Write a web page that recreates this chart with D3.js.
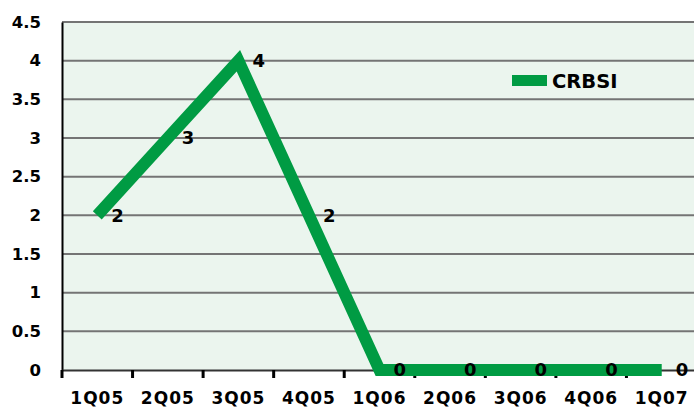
<!DOCTYPE html>
<html>
<head>
<meta charset="utf-8">
<script src="https://cdn.jsdelivr.net/npm/d3@7"></script>
<style>
  body { margin: 0; background: #fff; }
  text { font-family: "DejaVu Sans", sans-serif; font-weight: bold; fill: #000; }
</style>
</head>
<body>
<svg id="chart" width="694" height="413"></svg>
<script>
var quarters = ["1Q05", "2Q05", "3Q05", "4Q05", "1Q06", "2Q06", "3Q06", "4Q06", "1Q07"];
var crbsi = [2, 3, 4, 2, 0, 0, 0, 0, 0];
var yTicks = [0, 0.5, 1, 1.5, 2, 2.5, 3, 3.5, 4, 4.5];
var seriesName = "CRBSI";

var plotLeft = 62, plotTop = 22, plotRight = 697, plotBottom = 370;
var green = "#009b43";

var svg = d3.select("#chart");

var x = d3.scaleBand().domain(quarters).range([plotLeft, plotRight]);
var y = d3.scaleLinear().domain([0, 4.5]).range([plotBottom, plotTop]);

// plot background
svg.append("rect").attr("x", plotLeft).attr("y", plotTop)
	.attr("width", plotRight - plotLeft).attr("height", plotBottom - plotTop)
	.attr("fill", "#ebf5ee");

// grid lines
svg.append("g").selectAll("line").data(yTicks.filter(function(d){ return d > 0; }))
	.enter().append("line")
	.attr("x1", plotLeft).attr("x2", plotRight)
	.attr("y1", function(d){ return y(d); }).attr("y2", function(d){ return y(d); })
	.attr("stroke", "#747474").attr("stroke-width", 2);

// y axis
var yAxis = svg.append("g").attr("transform", "translate(" + plotLeft + ",0)")
	.call(d3.axisLeft(y).tickValues(yTicks).tickSize(0).tickPadding(21)
		.tickFormat(function(d){ return String(d); }));
yAxis.select(".domain").attr("stroke", "#000").attr("stroke-width", 2);
yAxis.selectAll("text").attr("font-size", 16.5);

// x axis
var xAxis = svg.append("g").attr("transform", "translate(0," + plotBottom + ")")
	.call(d3.axisBottom(x).tickSize(0).tickPadding(22));
xAxis.select(".domain").attr("stroke", "#333").attr("stroke-width", 2);
xAxis.selectAll("text").attr("font-size", 17).attr("letter-spacing", 1);

// tick marks between categories
svg.append("g").selectAll("line").data(quarters)
	.enter().append("line")
	.attr("x1", function(d){ return x(d); }).attr("x2", function(d){ return x(d); })
	.attr("y1", plotBottom).attr("y2", plotBottom + 8)
	.attr("stroke", "#000").attr("stroke-width", 3);

// series line
var line = d3.line()
	.x(function(d, i){ return x(quarters[i]) + x.bandwidth() / 2; })
	.y(function(d){ return y(d); });

svg.append("path").datum(crbsi)
	.attr("d", line)
	.attr("fill", "none")
	.attr("stroke", green).attr("stroke-width", 12)
	.attr("stroke-linejoin", "miter").attr("stroke-linecap", "butt");

// data labels
svg.append("g").selectAll("text").data(crbsi)
	.enter().append("text")
	.attr("x", function(d, i){ return x(quarters[i]) + x.bandwidth() / 2 + 14; })
	.attr("y", function(d){ return y(d); })
	.attr("dy", "0.36em")
	.attr("font-size", 18)
	.text(function(d){ return d; });

// legend
svg.append("rect").attr("x", 512).attr("y", 75).attr("width", 35).attr("height", 11).attr("fill", green);
svg.append("text").attr("x", 552).attr("y", 88).attr("font-size", 19.5).text(seriesName);
</script>
</body>
</html>
